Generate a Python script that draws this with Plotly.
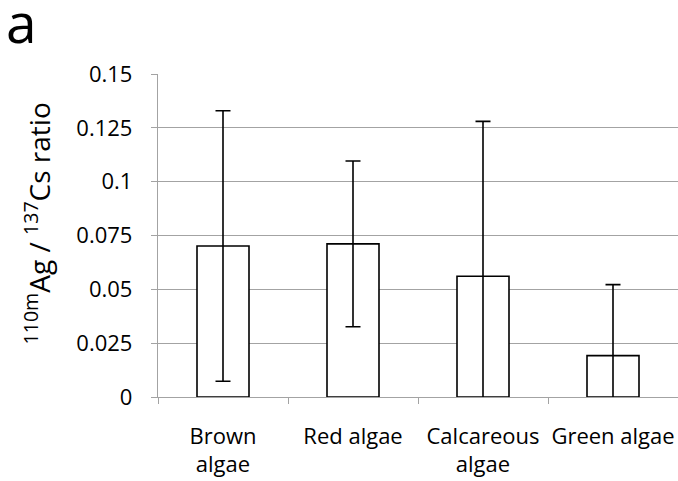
import plotly.graph_objects as go

categories = ["Brown<br>algae", "Red algae", "Calcareous<br>algae", "Green algae"]
values = [0.0701, 0.0711, 0.0561, 0.0192]
errors = [0.0628, 0.0385, 0.0719, 0.0330]
y_tickvals = [0, 0.025, 0.05, 0.075, 0.1, 0.125, 0.15]
y_ticktext = ["0", "0.025", "0.05", "0.075", "0.1", "0.125", "0.15"]

FONT = "Open Sans"
GRID = "#A3A3A3"

fig = go.Figure()
fig.add_trace(go.Bar(
    x=categories, y=values,
    width=0.4,
    marker=dict(color="white", line=dict(color="black", width=1.6)),
    error_y=dict(type="data", array=errors, visible=True, color="black",
                 thickness=1.6, width=7.5),
    cliponaxis=True,
))

fig.update_layout(
    width=678, height=481,
    margin=dict(l=158, r=0, t=74, b=84, pad=0),
    paper_bgcolor="white", plot_bgcolor="white",
    showlegend=False,
    font=dict(family=FONT, size=22, color="black"),
    xaxis=dict(
        type="category", range=[-0.5, 3.5],
        showline=True, linecolor=GRID, linewidth=1.3,
        ticks="outside", tickson="boundaries", ticklen=6, tickcolor=GRID, tickwidth=1.3,
        showgrid=False, automargin=False, ticklabelstandoff=19, tickangle=0,
        tickfont=dict(family=FONT, size=22, color="black"),
    ),
    yaxis=dict(
        range=[0, 0.15], tickvals=y_tickvals, ticktext=y_ticktext,
        showline=True, linecolor=GRID, linewidth=1.3,
        ticks="outside", ticklen=6, tickcolor=GRID, tickwidth=1.3,
        showgrid=True, gridcolor=GRID, gridwidth=1.3,
        zeroline=False, automargin=False, ticklabelstandoff=14,
        tickfont=dict(family=FONT, size=22, color="black"),
    ),
    annotations=[
        dict(text="<sup>110m</sup>Ag / <sup>137</sup>Cs ratio", textangle=-90,
             xref="paper", yref="paper", x=-(158 - 38) / 520, y=0.5 + 12 / 323,
             xanchor="center", yanchor="middle", showarrow=False,
             font=dict(family=FONT, size=28, color="black")),
        dict(text="a", xref="paper", yref="paper",
             x=-(158 - 4) / 520, y=1 + (74 + 18) / 323,
             xanchor="left", yanchor="top", showarrow=False,
             font=dict(family=FONT, size=55, color="black")),
    ],
)

fig.write_html("out.html")
